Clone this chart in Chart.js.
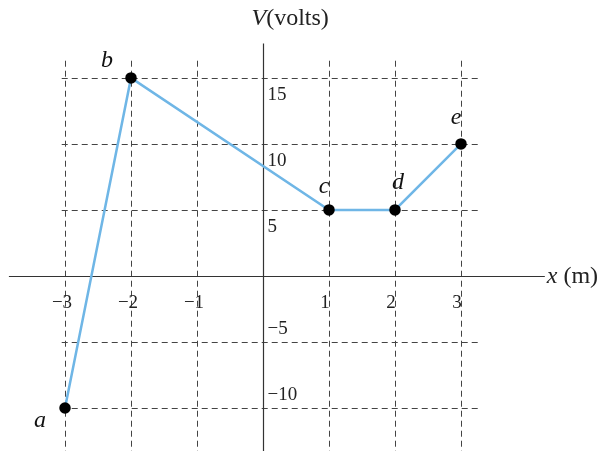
<!DOCTYPE html>
<html>
<head>
<meta charset="utf-8">
<script src="https://cdn.jsdelivr.net/npm/chart.js@4"></script>
<style>
  body { margin: 0; background: #fff; }
  canvas { display: block; }
</style>
</head>
<body>
<canvas id="chart" width="606" height="451"></canvas>
<script>
// Data
const xValues = [-3, -2, 1, 2, 3];          // x (m)
const vValues = [-10, 15, 5, 5, 10];        // V (volts)
const pointNames = ['a', 'b', 'c', 'd', 'e'];
const xTicks = [-3, -2, -1, 1, 2, 3];
const yTicks = [15, 10, 5, -5, -10];

const ctx = document.getElementById('chart').getContext('2d');
const serif = '"Liberation Serif", "DejaVu Serif", serif';

// offsets (px) of the point names from their points
const nameOffsets = [[-25, 13], [-24, -17], [-5, -23], [3, -27], [-5, -26]];

function fmt(v) {
  return v < 0 ? '\u2212' + Math.abs(v) : String(v);
}

// Draws the dashed grid, the axes, the tick labels and the titles
const axesPlugin = {
  id: 'axesPlugin',
  beforeDatasetsDraw(chart) {
    const c = chart.ctx;
    const xs = chart.scales.x;
    const ys = chart.scales.y;
    c.save();
    c.strokeStyle = '#444';
    c.lineWidth = 1;
    c.setLineDash([6, 4]);
    // vertical dashed lines
    xTicks.forEach(t => {
      const px = Math.round(xs.getPixelForValue(t)) + 0.5;
      c.beginPath();
      c.moveTo(px, ys.getPixelForValue(16.3));
      c.lineTo(px, ys.getPixelForValue(-13.5));
      c.stroke();
    });
    // horizontal dashed lines
    yTicks.forEach(t => {
      const py = Math.round(ys.getPixelForValue(t)) + 0.5;
      c.beginPath();
      c.moveTo(xs.getPixelForValue(-3.05), py);
      c.lineTo(xs.getPixelForValue(3.3), py);
      c.stroke();
    });
    c.setLineDash([]);
    // axes
    c.strokeStyle = '#333';
    c.lineWidth = 1.2;
    const x0 = Math.round(xs.getPixelForValue(0)) + 0.5;
    const y0 = Math.round(ys.getPixelForValue(0)) + 0.5;
    c.beginPath();
    c.moveTo(xs.getPixelForValue(-3.85), y0);
    c.lineTo(xs.getPixelForValue(4.27), y0);
    c.moveTo(x0, ys.getPixelForValue(17.6));
    c.lineTo(x0, ys.getPixelForValue(-13.5));
    c.stroke();

    // tick labels
    c.fillStyle = '#222';
    c.font = '19px ' + serif;
    c.textBaseline = 'middle';
    c.textAlign = 'center';
    xTicks.forEach(t => {
      c.fillText(fmt(t), xs.getPixelForValue(t) + (t < 0 ? -3 : -4), y0 + 27);
    });
    c.textAlign = 'left';
    yTicks.forEach(t => {
      const py = ys.getPixelForValue(t);
      c.fillText(fmt(t), x0 + 4, t > 0 ? py + 17 : py - 13);
    });

    // axis titles
    c.font = 'italic 24px ' + serif;
    c.textAlign = 'left';
    const tx = xs.getPixelForValue(4.3);
    c.fillText('x', tx, y0);
    const xw = c.measureText('x').width;
    c.font = '24px ' + serif;
    c.fillText(' (m)', tx + xw, y0);

    c.font = 'italic 24px ' + serif;
    const vx = x0 - 12;
    c.fillText('V', vx, 19);
    const vw = c.measureText('V').width;
    c.font = '24px ' + serif;
    c.fillText('(volts)', vx + vw, 19);
    c.restore();
  },
  afterDatasetsDraw(chart) {
    const c = chart.ctx;
    const xs = chart.scales.x;
    const ys = chart.scales.y;
    c.save();
    c.fillStyle = '#111';
    c.font = 'italic 24px ' + serif;
    c.textAlign = 'center';
    c.textBaseline = 'middle';
    pointNames.forEach((n, i) => {
      const px = xs.getPixelForValue(xValues[i]);
      const py = ys.getPixelForValue(vValues[i]);
      c.fillText(n, px + nameOffsets[i][0], py + nameOffsets[i][1]);
    });
    c.restore();
  }
};

const chart = new Chart(ctx, {
  type: 'scatter',
  data: {
    datasets: [{
      data: xValues.map((x, i) => ({ x: x, y: vValues[i] })),
      showLine: true,
      borderColor: '#6fb6e6',
      borderWidth: 2.5,
      pointBackgroundColor: '#000',
      pointBorderColor: '#000',
      pointRadius: 4.5,
      pointHoverRadius: 4.5
    }]
  },
  options: {
    responsive: false,
    animation: false,
    layout: { padding: 0, autoPadding: false },
    scales: {
      x: { type: 'linear', min: -3.985, max: 5.197, display: false },
      y: { type: 'linear', min: -13.26, max: 20.9, display: false }
    },
    plugins: {
      legend: { display: false },
      tooltip: { enabled: false }
    }
  },
  plugins: [axesPlugin]
});
</script>
</body>
</html>
